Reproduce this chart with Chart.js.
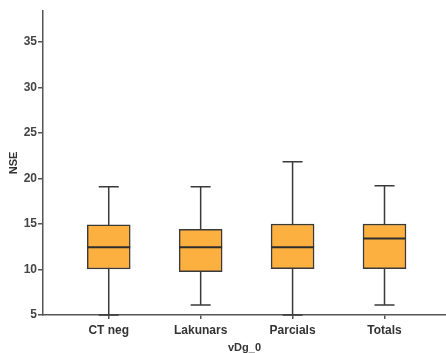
<!DOCTYPE html>
<html lang="en">
<head>
  <meta charset="UTF-8">
  <title>NSE per vDg_0</title>
  <script src="https://cdn.jsdelivr.net/npm/chart.js"></script>
  <style>
    html, body { margin: 0; padding: 0; background: #fff; }
    #wrap { width: 446px; height: 353px; }
  </style>
</head>
<body>
  <div id="wrap"><canvas id="nse-chart"></canvas></div>

  <script>
// Groups and box plot statistics (NSE)
const groups = ['CT neg', 'Lakunars', 'Parcials', 'Totals'];
const whiskerLow = [5.0, 6.1, 5.0, 6.1];
const quartile1 = [10.05, 9.75, 10.1, 10.1];
const medians = [12.45, 12.45, 12.45, 13.4];
const quartile3 = [14.9, 14.4, 15.0, 15.0];
const whiskerHigh = [19.1, 19.1, 21.85, 19.2];
const yTicks = [5, 10, 15, 20, 25, 30, 35];

const axisColor = '#555';
const boxLine = '#3a3a3a';

// boxes are floating bars from Q1 to Q3
const boxData = groups.map((g, i) => ({ x: i + 1, y: [quartile1[i], quartile3[i]] }));

// whiskers behind the boxes, medians on top
const boxPlotParts = {
  id: 'boxPlotParts',
  beforeDatasetsDraw(chart) {
    const { ctx, scales: { x, y } } = chart;
    ctx.save();
    ctx.strokeStyle = boxLine;
    ctx.lineWidth = 1.5;
    groups.forEach((g, i) => {
      const cx = x.getPixelForValue(i + 1);
      const capHalf = 10;
      const lo = y.getPixelForValue(whiskerLow[i]);
      const hi = y.getPixelForValue(whiskerHigh[i]);
      ctx.beginPath();
      ctx.moveTo(cx, lo);
      ctx.lineTo(cx, hi);
      ctx.moveTo(cx - capHalf, hi);
      ctx.lineTo(cx + capHalf, hi);
      ctx.moveTo(cx - capHalf, lo);
      ctx.lineTo(cx + capHalf, lo);
      ctx.stroke();
    });
    ctx.restore();
  },
  afterDatasetsDraw(chart) {
    const { ctx, scales: { y } } = chart;
    const bars = chart.getDatasetMeta(0).data;
    ctx.save();
    ctx.strokeStyle = '#2e2e2e';
    ctx.lineWidth = 2;
    bars.forEach((bar, i) => {
      const half = bar.width / 2;
      const my = y.getPixelForValue(medians[i]);
      ctx.beginPath();
      ctx.moveTo(bar.x - half, my);
      ctx.lineTo(bar.x + half, my);
      ctx.stroke();
    });
    ctx.restore();
  }
};

new Chart(document.getElementById('nse-chart'), {
  type: 'bar',
  data: {
    datasets: [{
      data: boxData,
      backgroundColor: '#fbb040',
      borderColor: boxLine,
      borderWidth: 1.5,
      borderSkipped: false,
      barThickness: 43
    }]
  },
  options: {
    responsive: true,
    maintainAspectRatio: false,
    animation: false,
    layout: { padding: { top: 11, right: 0, bottom: 0, left: 0 } },
    plugins: {
      legend: { display: false },
      tooltip: { enabled: false }
    },
    scales: {
      x: {
        type: 'linear',
        offset: false,
        min: 0.285,
        max: 4.669,
        afterBuildTicks(scale) {
          scale.ticks = groups.map((g, i) => ({ value: i + 1 }));
        },
        afterFit(scale) { scale.height = 38; },
        ticks: {
          callback: (v) => groups[v - 1] || '',
          color: '#333',
          font: { family: 'Liberation Sans', size: 12, weight: 'bold' },
          padding: 4,
          maxRotation: 0,
          autoSkip: false
        },
        grid: { offset: false, drawOnChartArea: false, drawTicks: true, tickLength: 4, color: axisColor, lineWidth: 1.5 },
        border: { display: true, color: axisColor, width: 1.5 },
        title: {
          display: true,
          text: 'vDg_0',
          color: '#333',
          font: { family: 'Liberation Sans', size: 11, weight: 'bold', lineHeight: 1 },
          padding: { top: 0, bottom: 0 }
        }
      },
      y: {
        min: 5,
        max: 38.4,
        afterBuildTicks(scale) {
          scale.ticks = yTicks.map(v => ({ value: v }));
        },
        afterFit(scale) { scale.width = 43; },
        ticks: {
          color: '#444',
          font: { family: 'Liberation Sans', size: 12, weight: 'bold' },
          padding: 1
        },
        grid: { drawOnChartArea: false, drawTicks: true, tickLength: 5, color: axisColor, lineWidth: 1.5 },
        border: { display: true, color: axisColor, width: 1.5 },
        title: {
          display: true,
          text: 'NSE',
          color: '#333',
          font: { family: 'Liberation Sans', size: 11, weight: 'bold', lineHeight: 1.2 },
          padding: { top: 7, bottom: 0 }
        }
      }
    }
  },
  plugins: [boxPlotParts]
});
  </script>
</body>
</html>
